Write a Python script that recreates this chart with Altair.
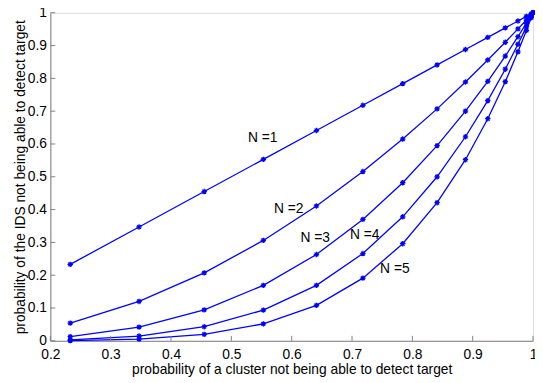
import altair as alt
import pandas as pd

x_vals = [0.233, 0.347, 0.455, 0.553, 0.641, 0.718, 0.784, 0.841, 0.888, 0.925, 0.954, 0.975, 0.989, 0.997, 1.0]
y_n1 = [0.233, 0.347, 0.455, 0.553, 0.641, 0.718, 0.784, 0.841, 0.888, 0.925, 0.954, 0.975, 0.989, 0.997, 1.0]
y_n2 = [0.054, 0.120, 0.207, 0.306, 0.411, 0.516, 0.615, 0.707, 0.789, 0.856, 0.910, 0.951, 0.978, 0.994, 1.0]
y_n3 = [0.0126, 0.0418, 0.0942, 0.169, 0.263, 0.370, 0.482, 0.595, 0.700, 0.791, 0.868, 0.927, 0.968, 0.991, 1.0]
y_n4 = [0.0029, 0.0145, 0.0429, 0.0935, 0.169, 0.266, 0.378, 0.500, 0.622, 0.732, 0.828, 0.904, 0.957, 0.988, 1.0]
y_n5 = [0.0007, 0.0050, 0.0195, 0.0517, 0.108, 0.191, 0.296, 0.421, 0.552, 0.677, 0.790, 0.881, 0.946, 0.985, 1.0]

label_text = ["N =1", "N =2", "N =3", "N =4", "N =5"]
label_x = [0.552, 0.595, 0.639, 0.721, 0.771]
label_y = [0.619, 0.402, 0.312, 0.321, 0.219]

x_ticks = [0.2, 0.3, 0.4, 0.5, 0.6, 0.7, 0.8, 0.9, 1.0]
y_ticks = [0.0, 0.1, 0.2, 0.3, 0.4, 0.5, 0.6, 0.7, 0.8, 0.9, 1.0]

rows = []
for name, ys in zip(["N1", "N2", "N3", "N4", "N5"], [y_n1, y_n2, y_n3, y_n4, y_n5]):
    for xv, yv in zip(x_vals, ys):
        rows.append({"series": name, "x": xv, "y": yv})
df = pd.DataFrame(rows)
labels_df = pd.DataFrame({"text": label_text, "x": label_x, "y": label_y})
xt_df = pd.DataFrame({"x": x_ticks})
yt_df = pd.DataFrame({"y": y_ticks})

W, H = 490, 333
FONT = "Liberation Sans"
xscale = alt.Scale(domain=[0.2, 1.0], nice=False, zero=False)
yscale = alt.Scale(domain=[0.0, 1.0], nice=False)

xaxis = alt.Axis(values=x_ticks, format="~g", ticks=False, grid=False,
                 domainColor="#808080", labelColor="black", labelFontSize=14,
                 labelFont=FONT, labelPadding=7, title="probability of a cluster not being able to detect target",
                 titleFont=FONT, titleFontSize=14, titleFontWeight="normal", titleColor="black",
                 titlePadding=1, labelFlush=False, labelOverlap=False)
yaxis = alt.Axis(values=y_ticks, format="~g", ticks=False, grid=False,
                 domainColor="#808080", labelColor="black", labelFontSize=14,
                 labelFont=FONT, labelPadding=4, title="probability of the IDS not being able to detect target",
                 titleFont=FONT, titleFontSize=14, titleFontWeight="normal", titleColor="black",
                 titlePadding=0, labelFlush=False, labelOverlap=False)

X = alt.X("x:Q", scale=xscale, axis=xaxis)
Y = alt.Y("y:Q", scale=yscale, axis=yaxis)

base = alt.Chart(df)
lines = base.mark_line(color="#0000ff", strokeWidth=1.3).encode(
    x=X, y=Y, detail="series:N",
)
asterisk = "M-1,0L1,0M0,-1L0,1M-0.7,-0.7L0.7,0.7M-0.7,0.7L0.7,-0.7"
points = base.mark_point(shape=asterisk, color="#0000ff", filled=False, size=30, strokeWidth=1.3, opacity=1).encode(
    x=X, y=Y,
)
texts = alt.Chart(labels_df).mark_text(font=FONT, fontSize=14, color="black").encode(
    x=X, y=Y, text="text:N",
)
xticks = alt.Chart(xt_df).mark_rule(color="#808080", strokeWidth=1).encode(
    x=X, y=alt.value(H), y2=alt.value(H - 5),
)
yticks = alt.Chart(yt_df).mark_rule(color="#808080", strokeWidth=1).encode(
    y=Y, x=alt.value(0), x2=alt.value(5),
)

chart = alt.layer(lines, points, texts, xticks, yticks).properties(
    width=W, height=H,
    autosize=alt.AutoSizeParams(type="none"),
    padding={"left": 43, "top": 2, "right": 2, "bottom": 40},
).configure_view(stroke=None).configure(background="white")

chart.save("out.html", embed_options={"renderer": "svg", "actions": False})
